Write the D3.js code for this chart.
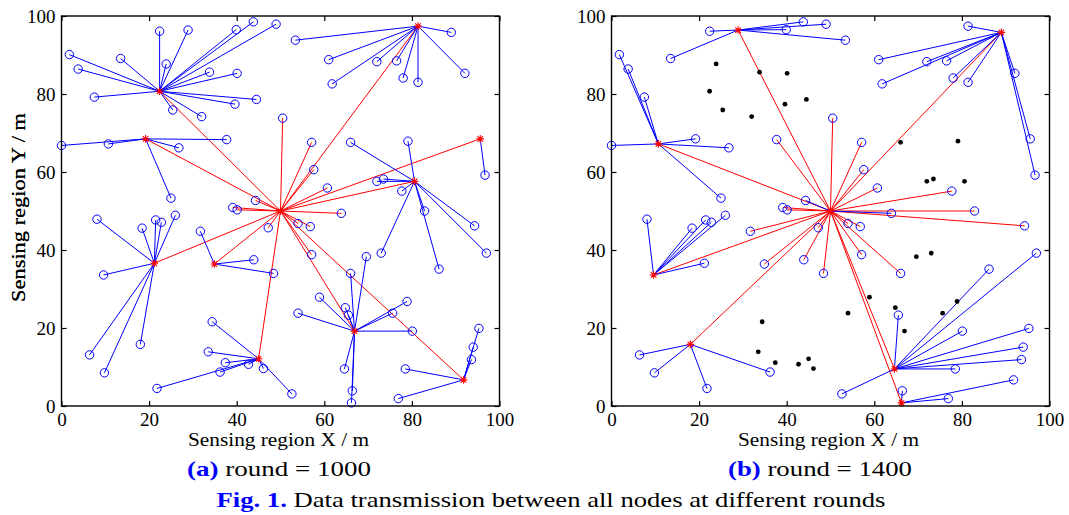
<!DOCTYPE html>
<html><head><meta charset="utf-8">
<script src="https://cdn.jsdelivr.net/npm/d3@7"></script>
<style>
body{margin:0;background:#fff;}
svg text{font-family:"Times New Roman","Liberation Serif",Tinos,Times,serif;}
</style></head>
<body>
<svg id="chart" width="1069" height="515"></svg>
<script>
// ---- data ----
const sink = [50, 50];
const xTicks = [0, 20, 40, 60, 80, 100];
const yTicks = [0, 20, 40, 60, 80, 100];
// node positions (m)
const nodeX = [22.4,28.9,23.9,39.9,43.8,49.0,1.8,3.8,13.5,33.8,
  40.1,7.5,44.5,39.6,25.4,32.0,22.4,19.2,0.0,10.7,
  37.7,26.8,25.0,81.4,53.4,61.0,61.8,72.0,76.5,78.0,
  81.4,89.0,92.1,95.6,96.7,80.6,66.0,79.1,72.0,73.5,
  77.7,82.9,94.3,97.0,86.2,73.0,21.2,8.1,18.4,21.5,
  22.8,26.0,9.6,6.4,9.8,18.0,34.9,31.7,43.9,48.4,
  45.0,34.4,33.5,37.4,42.7,36.2,46.1,21.8,52.6,66.9,
  66.0,69.6,58.9,54.0,64.8,65.5,75.6,78.9,80.1,64.6,
  66.4,66.2,91.8,95.3,94.0,93.6,78.5,76.9,50.5,57.1,
  57.6,60.7,63.9,54.0,56.8,57.1,44.3,39.1,40.1,47.2];
const nodeY = [96.1,96.4,87.7,96.5,98.5,97.9,90.1,86.4,89.1,85.6,
  85.3,79.2,78.6,77.4,75.9,74.2,80.7,68.5,66.8,67.2,
  68.3,66.2,53.3,97.4,93.8,88.8,82.6,88.3,88.5,84.1,
  83.0,95.8,85.3,68.5,59.2,57.6,67.6,67.9,57.6,58.2,
  55.1,50.0,46.2,39.2,35.1,39.2,36.6,47.9,45.6,47.7,
  47.1,48.9,33.6,13.1,8.5,15.8,36.4,44.8,37.5,34.0,
  12.1,21.6,13.9,11.1,10.7,8.7,9.6,4.5,3.1,19.2,
  34.0,38.3,27.9,23.8,25.2,23.3,23.8,26.8,19.2,9.5,
  3.9,0.8,6.7,19.9,15.1,11.9,9.5,1.9,73.8,67.6,
  60.6,55.9,49.4,46.8,46.0,38.8,52.7,50.9,50.3,45.7];
// link target per node: number = cluster head index (blue), "S" = direct to sink (red),
// "B" = to sink (blue), "D" = dead node
const headsA = [16,17,23,33,35,46,56,60,69,82];
const parentA = [16,16,16,16,16,16,16,16,16,16,
  16,16,16,16,16,16,"S","S",17,17,
  17,17,17,"S",23,23,23,23,23,23,
  23,23,23,"S",33,"S",35,35,35,35,
  35,35,35,35,35,35,"S",46,46,46,
  46,46,46,46,46,46,"S",56,56,56,
  "S",60,60,60,60,60,60,60,60,"S",
  69,69,69,69,69,69,69,69,69,69,
  69,69,"S",82,82,82,82,82,"S","S",
  "S","S","S","S","S","S","S","S","S","S"];
const headsB = [1,19,31,52,55,79,81];
const parentB = [1,"S","D",1,1,1,19,19,1,"D",
  "D",19,"D","D","D","D","D",19,19,"S",
  "S",19,19,31,1,31,31,31,31,31,
  31,"S",31,31,31,"D","D","D","D","D",
  "S","S","S",79,79,"D",52,52,52,52,
  52,52,"S",55,55,"S","S","S","S","S",
  "D","D","D","D","D",55,"D",55,79,"D",
  "S","D","D","D","D",79,"D","D",79,"S",
  81,"S",81,79,79,79,79,81,"S","S",
  "S","S","B","S","S","S","B","S","S","S"];
const panels = [
  {heads: headsA, parent: parentA, label: "(a)", text: " round = 1000", left: 61.5, capX: 279},
  {heads: headsB, parent: parentB, label: "(b)", text: " round = 1400", left: 611.5, capX: 820}
];

// ---- drawing ----
const FONT = '"Times New Roman","Liberation Serif",Tinos,Times,serif';
const svg = d3.select("#chart");
const W = 438, H = 390, plotTop = 16;
const BLUE = "#0000ff", RED = "#ff0000";

function star(g, cx, cy, r) {
  const d = r * 0.72;
  const p = `M${cx-r},${cy}L${cx+r},${cy}M${cx},${cy-r}L${cx},${cy+r}` +
            `M${cx-d},${cy-d}L${cx+d},${cy+d}M${cx-d},${cy+d}L${cx+d},${cy-d}`;
  g.append("path").attr("d", p).attr("stroke", RED).attr("stroke-width", 1.1).attr("fill", "none");
}

panels.forEach(pn => {
  const g = svg.append("g").attr("transform", `translate(${pn.left},${plotTop})`);
  const x = d3.scaleLinear().domain([0, 100]).range([0, W]);
  const y = d3.scaleLinear().domain([0, 100]).range([H, 0]);
  const idx = d3.range(nodeX.length);
  const isHead = new Set(pn.heads);

  // links to sink (red)
  g.selectAll(".red").data(idx.filter(i => pn.parent[i] === "S")).join("line")
    .attr("x1", i => x(nodeX[i])).attr("y1", i => y(nodeY[i]))
    .attr("x2", x(sink[0])).attr("y2", y(sink[1]))
    .attr("stroke", RED).attr("stroke-width", 1);
  // links to cluster heads (blue)
  g.selectAll(".blue").data(idx.filter(i => typeof pn.parent[i] === "number" || pn.parent[i] === "B")).join("line")
    .attr("x1", i => x(nodeX[i])).attr("y1", i => y(nodeY[i]))
    .attr("x2", i => pn.parent[i] === "B" ? x(sink[0]) : x(nodeX[pn.parent[i]]))
    .attr("y2", i => pn.parent[i] === "B" ? y(sink[1]) : y(nodeY[pn.parent[i]]))
    .attr("stroke", BLUE).attr("stroke-width", 1);

  // normal nodes
  g.selectAll(".node").data(idx.filter(i => pn.parent[i] !== "D" && !isHead.has(i))).join("circle")
    .attr("cx", i => x(nodeX[i])).attr("cy", i => y(nodeY[i])).attr("r", 4.2)
    .attr("fill", "none").attr("stroke", BLUE).attr("stroke-width", 1);
  // dead nodes
  g.selectAll(".dead").data(idx.filter(i => pn.parent[i] === "D")).join("circle")
    .attr("cx", i => x(nodeX[i])).attr("cy", i => y(nodeY[i])).attr("r", 2.4)
    .attr("fill", "#000");
  // cluster heads and sink
  pn.heads.forEach(i => star(g, x(nodeX[i]), y(nodeY[i]), 3.8));
  star(g, x(sink[0]), y(sink[1]), 3.8);

  // axes
  const fmt = d3.format("d");
  const ax = [
    g.append("g").attr("transform", `translate(0,${H})`).call(d3.axisBottom(x).tickValues(xTicks).tickSizeInner(-5).tickSizeOuter(0).tickPadding(7).tickFormat(fmt)),
    g.append("g").call(d3.axisTop(x).tickValues(xTicks).tickSizeInner(-5).tickSizeOuter(0).tickFormat("")),
    g.append("g").call(d3.axisLeft(y).tickValues(yTicks).tickSizeInner(-5).tickSizeOuter(0).tickPadding(6).tickFormat(fmt)),
    g.append("g").attr("transform", `translate(${W},0)`).call(d3.axisRight(y).tickValues(yTicks).tickSizeInner(-5).tickSizeOuter(0).tickFormat(""))
  ];
  ax.forEach(a => {
    a.attr("font-family", FONT);
    a.select(".domain").remove();
    a.selectAll("line").attr("stroke", "#000").attr("stroke-width", 1.2);
    a.selectAll("text").attr("fill", "#000").style("font-size", "19px").style("font-family", FONT);
  });
  g.append("rect").attr("width", W).attr("height", H).attr("fill", "none")
    .attr("stroke", "#000").attr("stroke-width", 1.4);

  // axis titles
  g.append("text").attr("x", W / 2 - 2).attr("y", 430).attr("text-anchor", "middle")
    .attr("textLength", 181).attr("lengthAdjust", "spacingAndGlyphs")
    .style("font-family", FONT).style("font-size", "19px").text("Sensing region X / m");
  g.append("text").attr("transform", `translate(${24.5 - pn.left},${207.5 - plotTop}) rotate(-90)`)
    .attr("text-anchor", "middle").attr("textLength", 189).attr("lengthAdjust", "spacingAndGlyphs")
    .style("font-family", FONT).style("font-size", "19px").text("Sensing region Y / m");

  // caption
  const cap = svg.append("text").attr("x", pn.capX).attr("y", 476).attr("text-anchor", "middle")
    .attr("textLength", 184).attr("lengthAdjust", "spacingAndGlyphs")
    .style("font-family", FONT).style("font-size", "21px");
  cap.append("tspan").attr("fill", BLUE).attr("font-weight", "bold").text(pn.label);
  cap.append("tspan").attr("fill", "#000").text(pn.text);
});

const fig = svg.append("text").attr("x", 551).attr("y", 507).attr("text-anchor", "middle")
  .attr("textLength", 669).attr("lengthAdjust", "spacingAndGlyphs")
  .style("font-family", FONT).style("font-size", "21px");
fig.append("tspan").attr("fill", BLUE).attr("font-weight", "bold").text("Fig. 1.");
fig.append("tspan").attr("fill", "#000").text(" Data transmission between all nodes at different rounds");
</script>
</body></html>
